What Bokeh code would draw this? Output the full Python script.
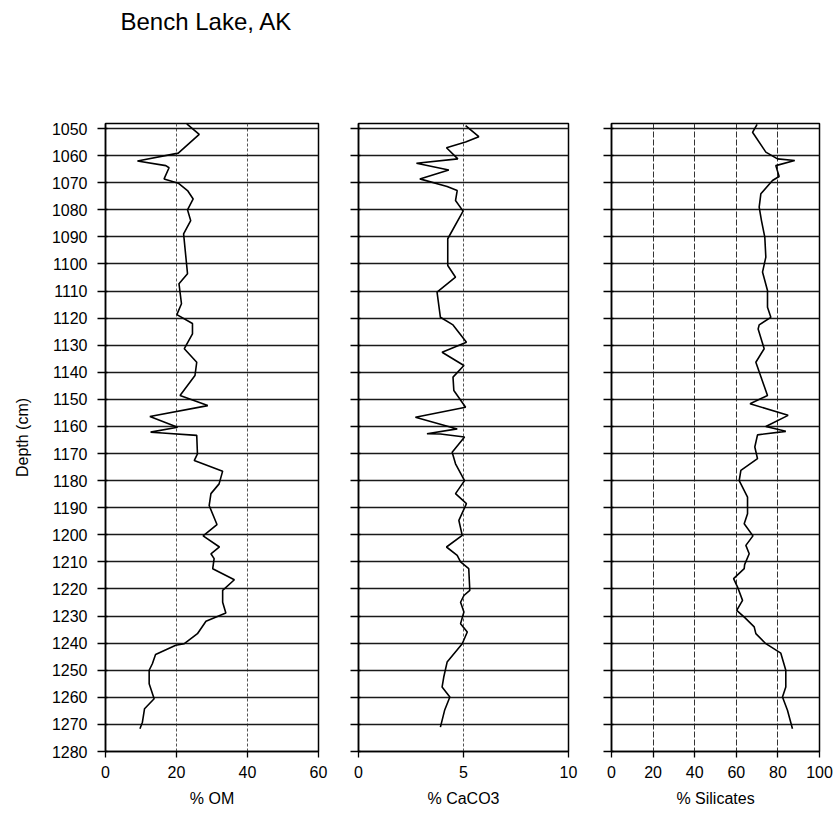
from bokeh.plotting import figure
from bokeh.layouts import row, column
from bokeh.models import Range1d, FixedTicker
from bokeh.core.properties import value
from bokeh.embed import file_html
from bokeh.resources import INLINE

# ---- data ----
om_depth = [1048.3, 1052.2, 1059.1, 1062.0, 1063.7, 1064.5, 1068.6, 1070.2, 1072.9, 1076.0,
            1080.0, 1084.0, 1088.9, 1103.6, 1107.3, 1114.7, 1118.7, 1122.0, 1125.8, 1131.3,
            1136.3, 1141.2, 1148.6, 1152.3, 1156.3, 1160.3, 1162.1, 1162.4, 1163.3, 1170.1,
            1172.6, 1176.5, 1181.2, 1184.8, 1189.2, 1196.2, 1200.4, 1204.5, 1207.0, 1208.8,
            1212.5, 1216.6, 1220.5, 1224.9, 1228.9, 1231.9, 1236.5, 1240.2, 1240.8, 1244.2,
            1247.6, 1250.0, 1255.0, 1260.5, 1264.2, 1269.2, 1271.6]
om_pct = [22.9, 26.4, 20.5, 9.0, 17.0, 17.9, 16.5, 20.5, 23.1, 24.7,
          23.1, 24.0, 22.0, 23.1, 20.7, 21.4, 20.1, 24.5, 24.5, 22.2,
          25.7, 25.2, 21.0, 28.8, 12.5, 20.3, 12.7, 16.0, 25.7, 25.9,
          25.0, 33.0, 32.0, 29.7, 29.2, 31.4, 27.5, 32.1, 29.7, 30.6,
          30.2, 36.3, 33.0, 33.0, 33.9, 28.3, 25.9, 22.2, 19.8, 14.1,
          13.2, 12.3, 12.3, 13.7, 11.0, 10.4, 9.7]

caco3_depth = [1048.9, 1053.0, 1055.0, 1057.1, 1061.2, 1062.8, 1065.3, 1068.6, 1071.4, 1072.9,
               1076.6, 1080.5, 1090.7, 1100.6, 1104.9, 1110.4, 1119.7, 1122.5, 1128.9, 1132.6,
               1137.5, 1141.8, 1146.7, 1152.9, 1156.6, 1160.9, 1162.7, 1162.8, 1163.9, 1169.5,
               1173.8, 1180.0, 1184.8, 1188.5, 1194.7, 1200.2, 1204.5, 1207.6, 1210.0, 1212.5,
               1220.5, 1222.4, 1224.9, 1228.5, 1232.8, 1235.9, 1240.2, 1247.0, 1252.5, 1256.2,
               1259.9, 1264.8, 1271.0]
caco3_pct = [5.10, 5.73, 5.10, 4.19, 4.73, 2.76, 4.30, 2.92, 4.22, 4.70,
             4.62, 4.98, 4.25, 4.25, 4.62, 3.74, 3.90, 4.50, 5.14, 3.98,
             5.02, 4.50, 4.54, 5.10, 2.71, 4.70, 3.26, 3.90, 5.05, 4.46,
             4.62, 5.05, 4.62, 5.14, 4.78, 4.94, 4.19, 4.70, 4.86, 5.25,
             5.30, 5.02, 4.86, 5.02, 4.86, 5.18, 4.94, 4.22, 4.06, 3.98,
             4.35, 4.10, 3.90]

sil_depth = [1048.5, 1051.4, 1058.7, 1061.2, 1061.8, 1063.7, 1067.7, 1069.2, 1074.1, 1079.0,
             1084.0, 1090.1, 1097.5, 1103.0, 1109.8, 1116.0, 1119.7, 1122.5, 1124.0, 1131.3,
             1136.3, 1142.0, 1148.6, 1151.6, 1155.9, 1160.0, 1161.8, 1163.1, 1167.6, 1171.9,
             1176.2, 1180.0, 1186.1, 1192.2, 1195.9, 1200.4, 1203.9, 1207.0, 1211.0, 1212.5,
             1216.2, 1219.3, 1224.2, 1227.9, 1230.6, 1234.0, 1236.5, 1240.2, 1243.7, 1250.0,
             1256.2, 1259.9, 1264.8, 1271.6]
sil_pct = [70.0, 67.8, 74.2, 79.8, 88.1, 79.0, 80.6, 77.4, 71.8, 71.0,
           72.1, 73.7, 74.2, 72.6, 75.0, 75.0, 76.6, 71.0, 70.5, 73.4,
           69.4, 72.0, 75.0, 66.6, 84.9, 74.2, 83.8, 70.2, 68.9, 70.2,
           62.2, 61.4, 65.4, 65.4, 63.8, 68.0, 64.6, 66.2, 64.0, 63.8,
           58.7, 60.6, 63.0, 60.2, 64.1, 68.6, 69.4, 74.2, 81.4, 83.8,
           83.8, 82.2, 84.6, 87.0]

title_text = "Bench Lake, AK"
depth_ticks = list(range(1050, 1290, 10))
om_ticks = [0, 20, 40, 60]
caco3_ticks = [0, 5, 10]
sil_ticks = [0, 20, 40, 60, 80, 100]

FONT = "Liberation Sans"
FRAME_H = 628
TITLE_H = 50
TOTAL_W = 833


def make_panel(xs, ys, xticks, xlabel, frame_w, bl, br, show_y, vdash, vcolor):
    p = figure(frame_width=frame_w, frame_height=FRAME_H,
               min_border_left=bl, min_border_right=br,
               min_border_top=123 - TITLE_H, min_border_bottom=60,
               x_range=Range1d(xticks[0], xticks[-1]),
               y_range=Range1d(1280, 1048.15),
               output_backend="svg", toolbar_location=None,
               background_fill_color="white", border_fill_color="white")
    p.outline_line_color = "black"
    p.outline_line_width = 1.5

    p.xaxis.ticker = FixedTicker(ticks=xticks)
    p.yaxis.ticker = FixedTicker(ticks=depth_ticks)
    p.xgrid.ticker = FixedTicker(ticks=xticks)
    p.ygrid.ticker = FixedTicker(ticks=depth_ticks)

    p.ygrid.grid_line_color = "#1a1a1a"
    p.ygrid.grid_line_width = 1.3
    p.xgrid.grid_line_color = vcolor
    p.xgrid.grid_line_width = 1
    p.xgrid.grid_line_dash = vdash

    for ax in (p.xaxis, p.yaxis):
        ax.axis_line_color = "black"
        ax.axis_line_width = 1.5
        ax.major_tick_line_color = "black"
        ax.major_tick_line_width = 1.3
        ax.minor_tick_line_color = None
        ax.major_label_text_font = FONT
        ax.major_label_text_font_size = "16px"
        ax.major_label_text_color = "black"

    p.xaxis.major_tick_in = 0
    p.xaxis.major_tick_out = 6
    p.xaxis.major_label_standoff = 8
    p.xaxis.axis_label = xlabel
    p.xaxis.axis_label_text_font = FONT
    p.xaxis.axis_label_text_font_size = "16px"
    p.xaxis.axis_label_text_font_style = "normal"
    p.xaxis.axis_label_text_color = "black"
    p.xaxis.axis_label_standoff = 9

    p.yaxis.major_tick_in = 2
    p.yaxis.major_tick_out = 8
    if show_y:
        p.yaxis.major_label_standoff = 10
        p.yaxis.axis_label = "Depth (cm)"
        p.yaxis.axis_label_text_font = FONT
        p.yaxis.axis_label_text_font_size = "16px"
        p.yaxis.axis_label_text_font_style = "normal"
        p.yaxis.axis_label_text_color = "black"
        p.yaxis.axis_label_standoff = 18
    else:
        p.yaxis.major_label_text_font_size = "0px"
        p.yaxis.major_label_text_color = None
        p.yaxis.major_label_standoff = 0

    p.line(xs, ys, line_color="black", line_width=1.6)
    return p


p1 = make_panel(om_pct, om_depth, om_ticks, "% OM", 213, 105, 20, True, "3 2", "#555555")
p2 = make_panel(caco3_pct, caco3_depth, caco3_ticks, "% CaCO3", 210, 20, 21, False, "3 2", "#555555")
p3 = make_panel(sil_pct, sil_depth, sil_ticks, "% Silicates", 208, 22, 14, False, "6 2", "#333333")

# title strip: a frameless figure whose pixel space equals its data space
tp = figure(width=TOTAL_W, height=TITLE_H, min_border=0,
            x_range=Range1d(0, TOTAL_W), y_range=Range1d(TITLE_H, 0),
            x_axis_location=None, y_axis_location=None,
            output_backend="svg", toolbar_location=None,
            background_fill_color="white", border_fill_color="white")
tp.outline_line_color = None
tp.grid.visible = False
tp.text(x=[120], y=[21], text=[title_text], text_font=value(FONT),
        text_font_size="24px", text_baseline="middle", text_align="left",
        text_color="black")

layout = column(tp, row(p1, p2, p3))
open("out.html", "w").write(file_html(layout, INLINE))
